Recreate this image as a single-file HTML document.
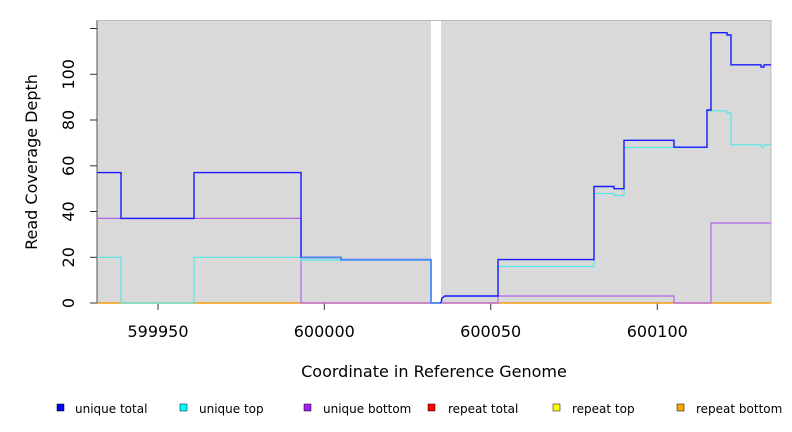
<!DOCTYPE html>
<html><head><meta charset="utf-8"><style>body{margin:0;background:#fff}svg{display:block}</style></head><body>
<svg width="792" height="432" xmlns="http://www.w3.org/2000/svg" font-family="DejaVu Sans, sans-serif">
<rect x="97" y="20" width="674" height="283" fill="#d9d9d9"/>
<rect x="431" y="20" width="10" height="284" fill="#fff"/>
<line x1="97" y1="20" x2="97" y2="303" stroke="#555"/>
<line x1="771" y1="20" x2="771" y2="303" stroke="#bbb"/>
<line x1="97" y1="20.5" x2="771" y2="20.5" stroke="#bbb"/>
<g stroke="#333" stroke-width="1">
<line x1="90" y1="303" x2="97" y2="303"/><line x1="90" y1="257.3" x2="97" y2="257.3"/><line x1="90" y1="211.5" x2="97" y2="211.5"/><line x1="90" y1="165.8" x2="97" y2="165.8"/><line x1="90" y1="120" x2="97" y2="120"/><line x1="90" y1="74.3" x2="97" y2="74.3"/><line x1="90" y1="28.5" x2="97" y2="28.5"/>
<line x1="158" y1="303" x2="158" y2="310"/><line x1="324.3" y1="303" x2="324.3" y2="310"/><line x1="490.7" y1="303" x2="490.7" y2="310"/><line x1="657.3" y1="303" x2="657.3" y2="310"/>
</g>
<g font-size="16" fill="#000" text-anchor="middle">
<text transform="translate(74,303) rotate(-90)">0</text>
<text transform="translate(74,257.3) rotate(-90)">20</text>
<text transform="translate(74,211.5) rotate(-90)">40</text>
<text transform="translate(74,165.8) rotate(-90)">60</text>
<text transform="translate(74,120) rotate(-90)">80</text>
<text transform="translate(74,74.3) rotate(-90)">100</text>
<text x="158" y="337">599950</text><text x="324.3" y="337">600000</text><text x="490.7" y="337">600050</text><text x="657.3" y="337">600100</text>
<text x="434" y="377">Coordinate in Reference Genome</text>
<text transform="translate(37,162) rotate(-90)">Read Coverage Depth</text>
</g>
<line x1="97" y1="303" x2="771" y2="303" stroke="#f39c12" stroke-width="1.5"/>
<g fill="none" stroke-width="1.2">
<polyline stroke="#b366f0" points="97,218.4 301,218.4 301,303 498,303 498,296 674,296 674,303 711,303 711,223 771,223"/>
<polyline stroke="#55e8e8" points="97,257.3 121,257.3 121,303 194,303 194,257.3 301,257.3 301,260 341,260 341,260 431,260 431,303 441,303 442,298 445,296 498,296 498,266.5 594,266.5 594,193.5 614,193.5 614,195.5 624,195.5 624,147.5 707,147.5 707,110.8 727,110.8 727,113 731,113 731,144.7 761,144.7 761,147 764,147 764,144.7 771,144.7"/>
<polyline stroke="#1a1aff" stroke-width="1.4" points="97,172.6 121,172.6 121,218.4 194,218.4 194,172.6 301,172.6 301,257.3 341,257.3 341,259.6 431,259.6"/>
<polyline stroke="#4a8cf5" stroke-width="1.8" points="301,257.5 341,257.5 341,259.8 431,259.8 431,303 441,303"/>
<polyline stroke="#1a1aff" stroke-width="1.4" points="441,303 442,298 445,296 498,296 498,259.6 594,259.6 594,186.5 614,186.5 614,188.7 624,188.7 624,140.3 674,140.3 674,147.2 707,147.2 707,110 711,110 711,32.7 727,32.7 727,35 731,35 731,64.8 761,64.8 761,67 764,67 764,64.8 771,64.8"/>
</g>
<g font-size="12" fill="#000">
<rect x="57" y="404" width="7" height="7" fill="#0000ff" stroke="#000" stroke-width=".5"/><text x="75" y="413">unique total</text>
<rect x="180" y="404" width="7" height="7" fill="#00ffff" stroke="#000" stroke-width=".5"/><text x="199" y="413">unique top</text>
<rect x="304" y="404" width="7" height="7" fill="#a020f0" stroke="#000" stroke-width=".5"/><text x="323" y="413">unique bottom</text>
<rect x="428" y="404" width="7" height="7" fill="#ff0000" stroke="#000" stroke-width=".5"/><text x="448" y="413">repeat total</text>
<rect x="553" y="404" width="7" height="7" fill="#ffff00" stroke="#000" stroke-width=".5"/><text x="572" y="413">repeat top</text>
<rect x="677" y="404" width="7" height="7" fill="#ffa500" stroke="#000" stroke-width=".5"/><text x="696" y="413">repeat bottom</text>
</g>
</svg>
</body></html>
